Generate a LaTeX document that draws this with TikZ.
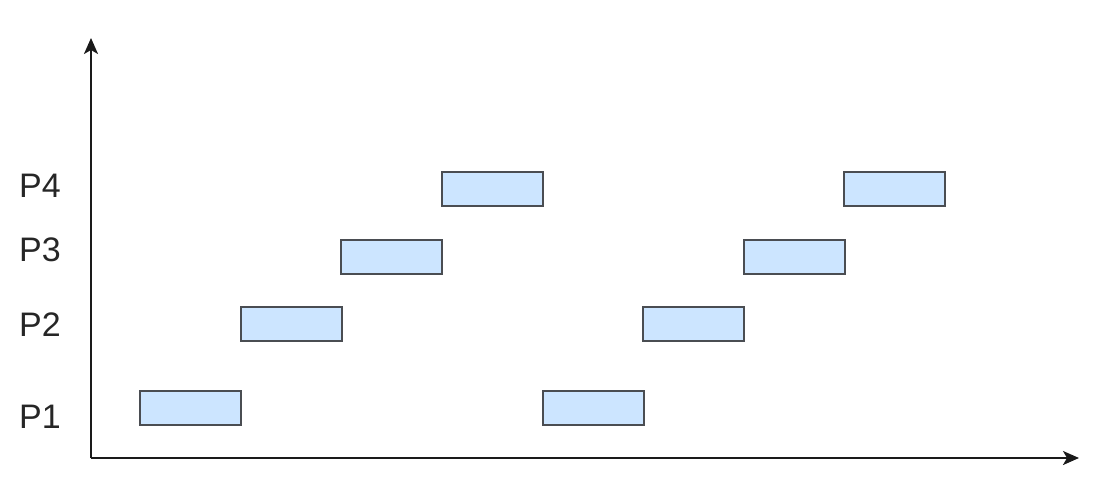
\documentclass[tikz,border=0pt]{standalone}
\usepackage{fontspec}
\setmainfont{Liberation Sans}
\usepackage{tikz}
\usetikzlibrary{positioning,arrows.meta}
\definecolor{SlotBlue}{HTML}{CCE5FF}
\definecolor{SlotEdge}{HTML}{4A4D52}
\definecolor{AxisGray}{HTML}{1A1A1A}

\begin{document}
\begin{tikzpicture}[x=1pt, y=-1pt,
  every node/.style={font=\fontsize{34}{40}\selectfont},
  slot/.style={draw=SlotEdge, line width=2pt, fill=SlotBlue, rectangle,
               minimum width=101pt, minimum height=34pt, inner sep=0pt},
  proc/.style={anchor=center, text=black!85, inner sep=0pt},
  axis/.style={draw=AxisGray, line width=2pt,
               -{Stealth[length=16pt, width=14pt, inset=4pt]}}]

  \useasboundingbox (0,0) rectangle (1114,491);

  % ===== axes =====
  \coordinate (origin) at (91,458);
  \coordinate (ytop)   at (91,38);
  \coordinate (xend)   at (1079,458);
  \draw[axis] (origin) -- (ytop);
  \draw[axis] (origin) -- (xend);

  % ===== process labels =====
  \node[proc] (lp4) at (40,186) {P4};
  \node[proc] (lp3) at (40,250) {P3};
  \node[proc] (lp2) at (40,325) {P2};
  \node[proc] (lp1) at (40,417) {P1};

  % ===== first round =====
  \node[slot] (p1a) at (190.5,407.5) {};
  \node[slot] (p2a) at (291.1,323.5) {};
  \node[slot] (p3a) at (391.7,256.5) {};
  \node[slot] (p4a) at (492.3,189.0) {};

  % ===== second round =====
  \node[slot] (p1b) at (593.0,407.5) {};
  \node[slot] (p2b) at (693.5,323.5) {};
  \node[slot] (p3b) at (794.1,256.5) {};
  \node[slot] (p4b) at (894.7,189.0) {};

\end{tikzpicture}
\end{document}
